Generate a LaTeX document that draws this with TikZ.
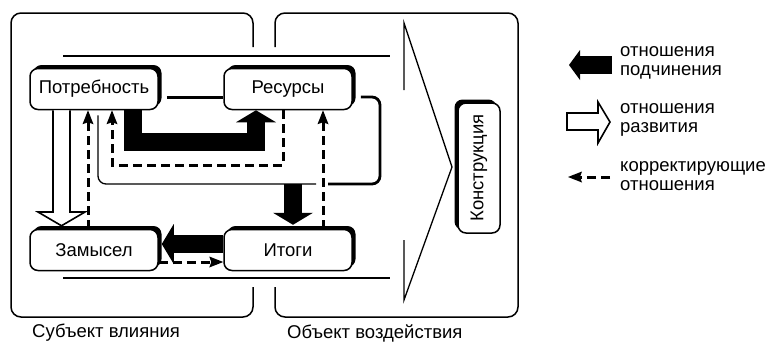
\documentclass[tikz,border=0pt]{standalone}
\usepackage{fontspec}
\setmainfont{Liberation Sans}
\usepackage{graphicx}
\usetikzlibrary{calc,arrows.meta,shadows}

\begin{document}
\begin{tikzpicture}[x = 1pt, y = -1pt,
every node/.style = {font = \fontsize{18.5}{18.5}\selectfont},
blk/.style = {draw, line width = 1.5pt, rounded corners = 8pt, fill = white, minimum width = 128pt, minimum height = 41pt, inner sep = 0pt, general shadow = {fill = black, shadow xshift = #1, shadow yshift = 3.5pt}},
blk/.default = 3.5pt,
zone/.style = {line width = 1.5pt, rounded corners = 10pt},
rule/.style = {line width = 1.3pt},
sub/.style = {line width = 18pt, line join = miter, -{Triangle[width = 40pt, length = 12pt, line width = 0pt]}},
dev/.style = {line width = 1.6pt, fill = white, line join = miter},
cor/.style = {line width = 3pt, dash pattern = on 9pt off 5pt, -{Stealth[length = 14pt, width = 11pt, inset = 2pt, line width = 0pt]}},
txt/.style = {align = left, anchor = west, inner sep = 0pt}]
\useasboundingbox (0,0) rectangle (769,341);

\draw[zone] (253,47) -- (253,13) -- (11,13) -- (11,317) -- (253,317) -- (253,287);
\draw[zone] (275,47) -- (275,13) -- (518,13) -- (518,317) -- (275,317) -- (275,287);
\draw[rule] (63,56) -- (390,56) (63,278) -- (390,278);
\draw[rule] (404,90) -- (404,23) -- (452,167) -- (404,300) -- (404,240);

\node[blk] (NEED) at (94,89) {Потребность};
\node[blk] (RES) at (288,89) {Ресурсы};
\node[blk] (IDEA) at (94,250) {Замысел};
\node[blk] (RESULT) at (288,250) {Итоги};
\node[blk = -3.5pt, minimum width = 42pt, minimum height = 130pt] (CONSTR) at (479,168) {\rotatebox{90}{Конструкция}};

\draw[line width = 3pt] ($(NEED.east)+(8,8)$) -- ($(RES.west)+(0,8)$);
\draw[sub] ($(NEED.south)+(39,0)$) |- ($(RES.south)+(-32,32)$) -- ($(RES.south)+(-32,0)$);
\draw[line width = 2.8pt, rounded corners = 8pt] ($(RES.east)+(8,8)$) -| (380,184) -- (328,184);
\draw[rule, rounded corners = 8pt] (316,184) -| ($(NEED.south)+(4,5)$);
\draw[sub] (293,184) -- ($(RESULT.north)+(5,-4)$);
\draw[sub] ($(RESULT.west)+(0,-6)$) -- ($(IDEA.east)+(3,-6)$);

\draw[cor] ($(IDEA.north)+(-6,0)$) -- ($(NEED.south)+(-6,0)$);
\draw[cor] ($(RESULT.north)+(35,0)$) -- ($(RES.south)+(35,0)$);
\draw[cor] ($(RES.south)+(-5,0)$) |- (112,165) -- ($(NEED.south)+(18,0)$);
\draw[cor] ($(IDEA.east)+(0,12)$) -- ($(RESULT.west)+(0,12)$);

\draw[dev] ($(NEED.south)+(-41,0)$) -- (53,212) -- (38,212) -- ($(IDEA.north)+(-32.5,-3)$) -- (85,212) -- (70,212) -- ($(NEED.south)+(-24,0)$);

\node[txt] (L1) at (620,63) {отношения\\подчинения};
\node[txt] (L2) at (620,120) {отношения\\развития};
\node[txt] (L3) at (620,176) {корректирующие\\отношения};
\draw[sub, -{Triangle[width = 30pt, length = 11pt, line width = 0pt]}] ($(L1.west)+(-8,2)$) -- ++(-43,0);
\draw[dev] ($(L2.west)+(-53,-7)$) -- ++(31,0) -- ++(0,-11) -- ++(12,20) -- ++(-12,21) -- ++(0,-13) -- ++(-31,0) -- cycle;
\draw[cor] ($(L3.west)+(-10,1)$) -- ++(-42,0);

\node[txt] (SUBJ) at (32,333) {Субъект влияния};
\node[txt] (OBJ) at (287,333) {Объект воздействия};
\end{tikzpicture}
\end{document}
